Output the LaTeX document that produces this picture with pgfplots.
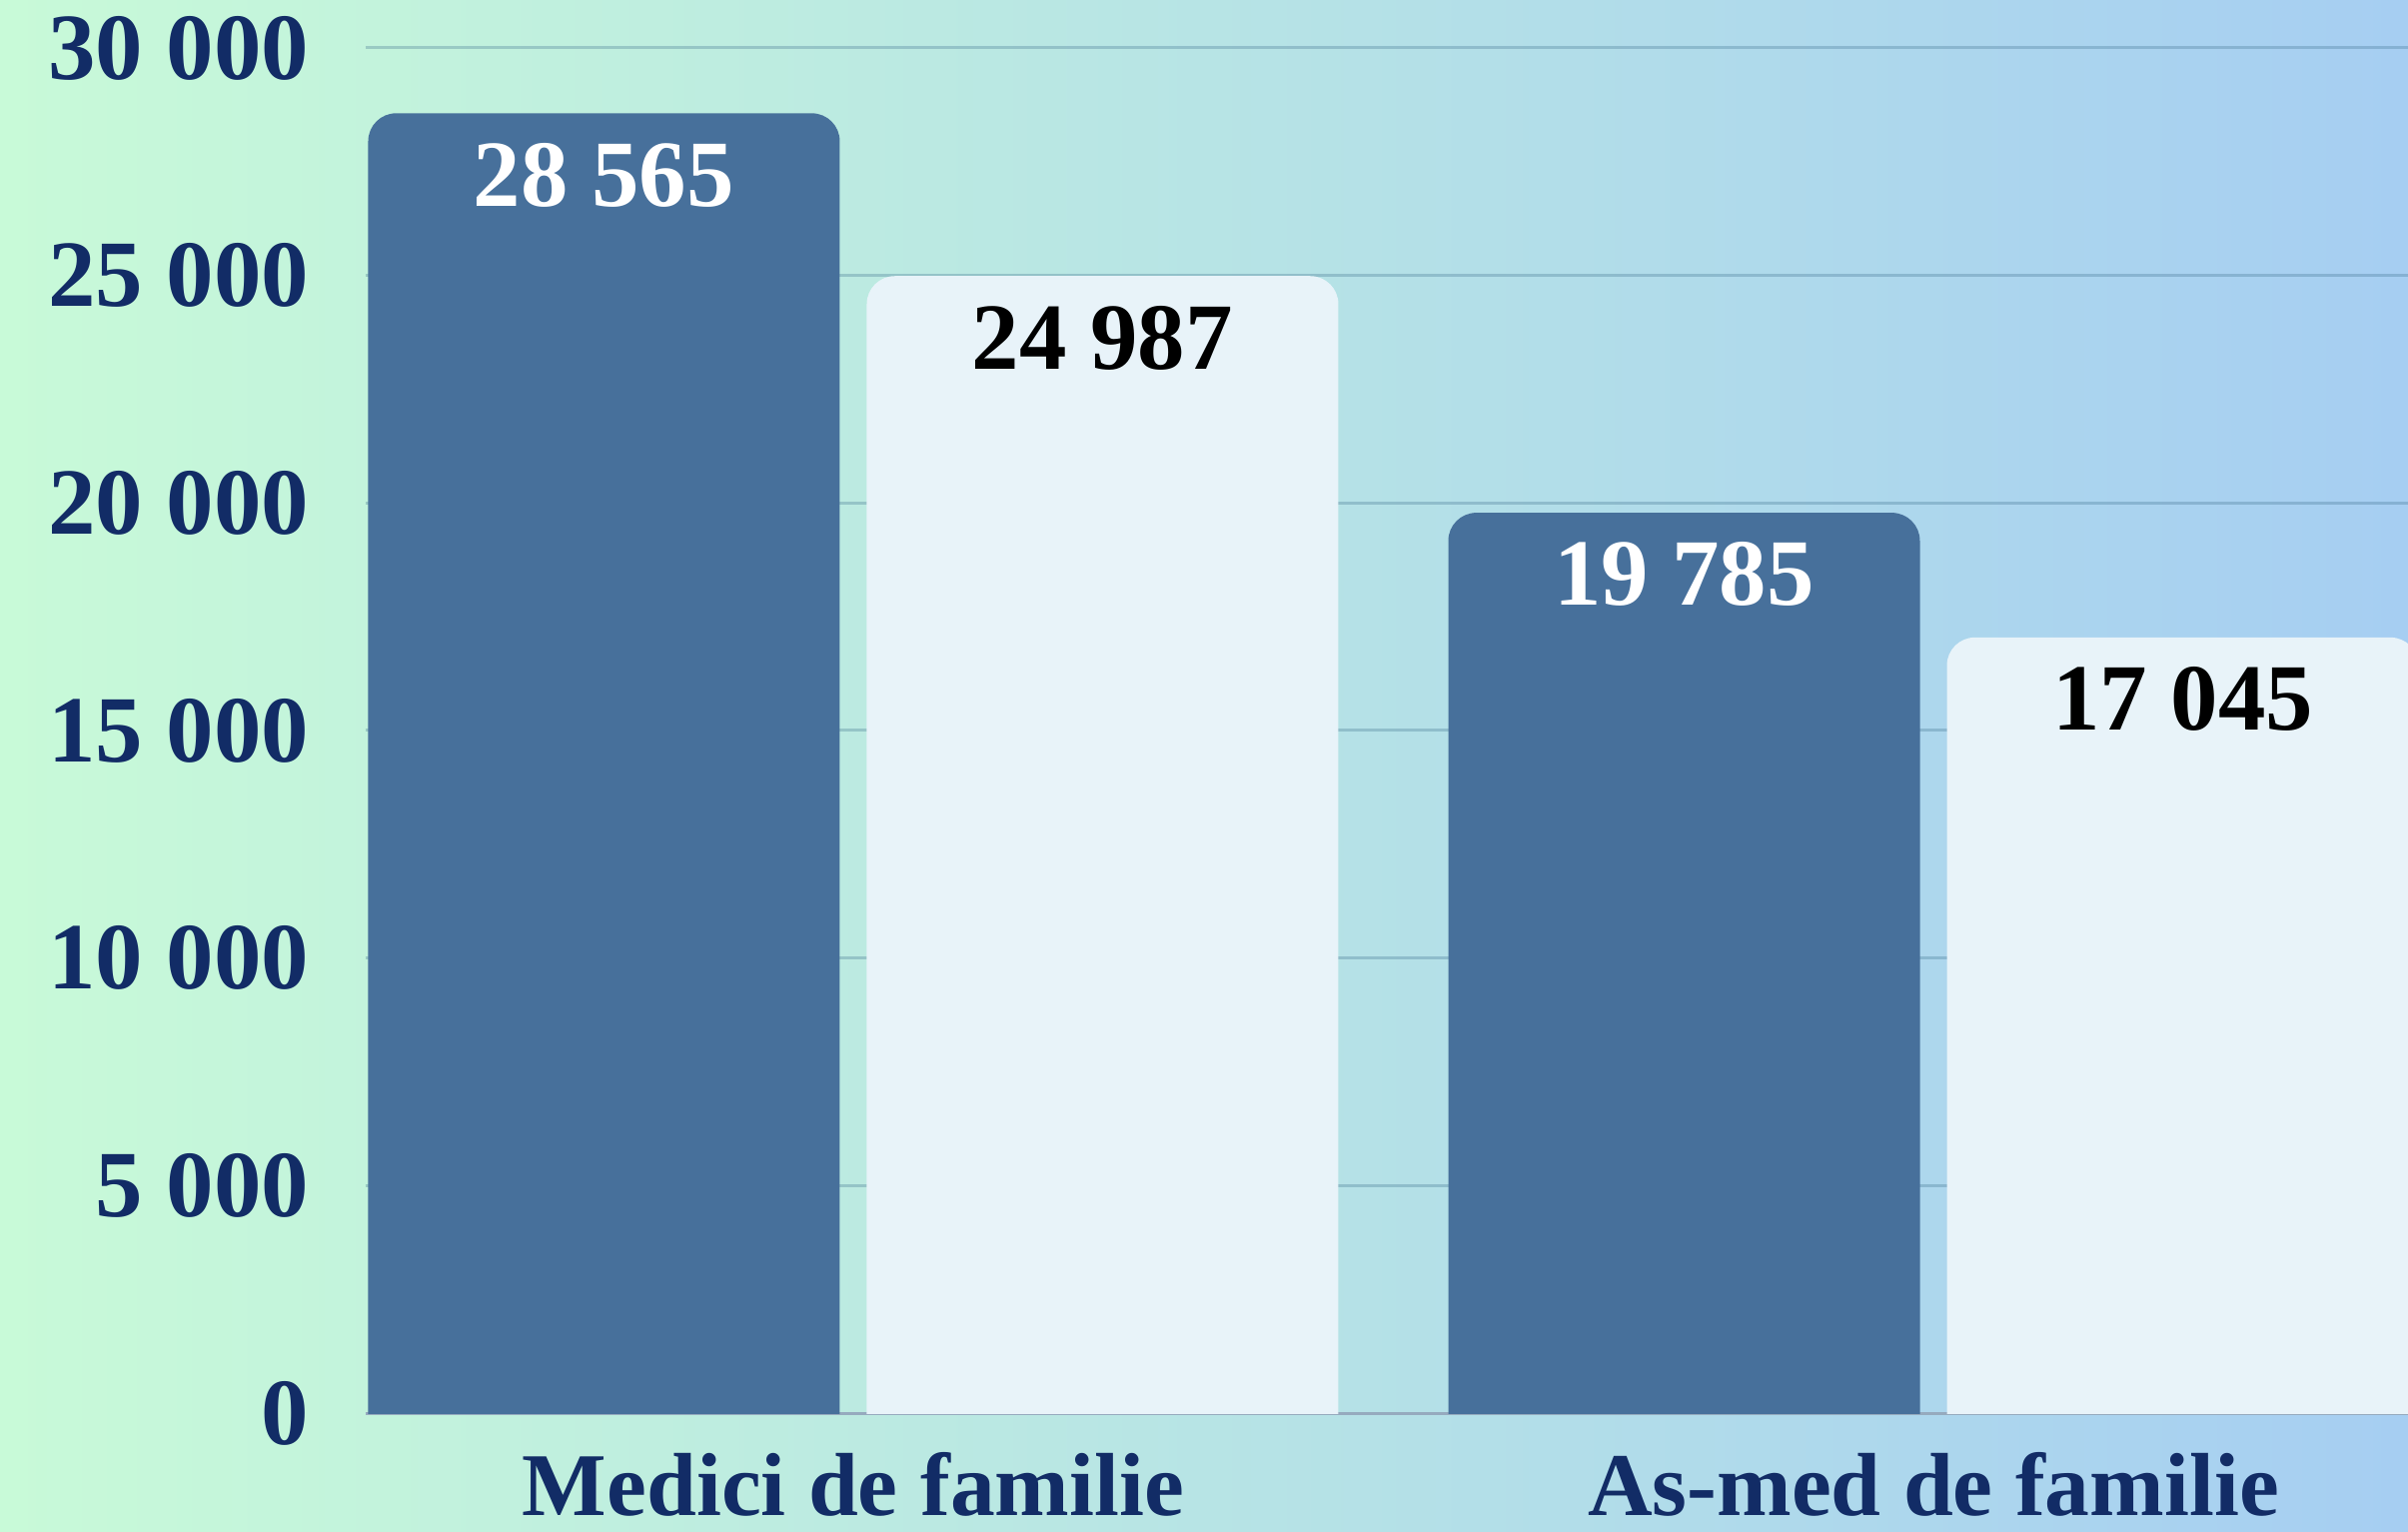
\documentclass[border=0pt]{standalone}
\usepackage{pgfplots}
\usepackage{pgfplotstable}
\pgfplotsset{compat=1.18}
\usepackage{fontspec}
\setmainfont{Liberation Serif}
\definecolor{bgL}{RGB}{200,250,216}
\definecolor{bgM}{RGB}{186,232,228}
\definecolor{bgR}{RGB}{166,206,242}
\definecolor{darkbar}{RGB}{71,112,155}
\definecolor{lightbar}{RGB}{232,243,249}
\definecolor{navy}{RGB}{18,44,102}
\definecolor{gridc}{RGB}{60,110,140}
\definecolor{basec}{RGB}{150,170,190}
\newcommand\numfont{\fontsize{27}{27}\selectfont\bfseries}
\newcommand\catfont{\fontsize{25.5}{25.5}\selectfont\bfseries}

% bar centres: group 0 and 1, offset +-0.2308, half width 0.2183
\pgfplotstableread{
x v lab
-0.2308 28565 {28 565}
0.7692 19785 {19 785}
}\tableA
\pgfplotstableread{
x v lab
0.2308 24987 {24 987}
1.2308 17045 {17 045}
}\tableB

\begin{document}
\begin{tikzpicture}
\shade[left color=bgL, middle color=bgM, right color=bgR] (0,0) rectangle (241mm,153.2mm);
\begin{axis}[
  at={(36.6mm,11.8mm)}, anchor=south west,
  scale only axis, width=204.4mm, height=136.6mm,
  xmin=-0.4514, xmax=1.4394, ymin=0, ymax=30000,
  scaled y ticks=false,
  axis line style={draw=none},
  major tick length=0pt,
  ytick={5000,10000,15000,20000,25000,30000},
  yticklabels={5 000,10 000,15 000,20 000,25 000,30 000},
  extra y ticks={0},
  extra y tick labels={0},
  extra y tick style={grid style={draw=basec, line width=0.3mm, opacity=1}},
  ymajorgrids,
  grid style={draw=gridc, opacity=0.3, line width=0.3mm},
  yticklabel style={anchor=east, inner sep=0pt, xshift=-5.6mm, font=\numfont, text=navy},
  xtick={0,1},
  xticklabels={Medici de familie,As-med de familie},
  xticklabel style={anchor=base, inner sep=0pt, yshift=-10.2mm, font=\catfont, text=navy},
]
% bars: rounded on top, bottom corners hidden below the axis floor
\addplot[fill=darkbar, draw=none, rounded corners=2.8mm] coordinates {(-0.4491,-3000) (-0.4491,28565) (-0.0125,28565) (-0.0125,-3000)};
\addplot[fill=lightbar, draw=none, rounded corners=2.8mm] coordinates {(0.0125,-3000) (0.0125,24987) (0.4491,24987) (0.4491,-3000)};
\addplot[fill=darkbar, draw=none, rounded corners=2.8mm] coordinates {(0.5509,-3000) (0.5509,19785) (0.9875,19785) (0.9875,-3000)};
\addplot[fill=lightbar, draw=none, rounded corners=2.8mm] coordinates {(1.0125,-3000) (1.0125,17045) (1.4491,17045) (1.4491,-3000)};
% value labels
\addplot[draw=none, mark=none, point meta=explicit symbolic, nodes near coords,
  every node near coord/.append style={anchor=north, yshift=-2.9mm, inner sep=0pt, font=\numfont, text=white}]
  table[x=x, y=v, meta=lab] {\tableA};
\addplot[draw=none, mark=none, point meta=explicit symbolic, nodes near coords,
  every node near coord/.append style={anchor=north, yshift=-2.9mm, inner sep=0pt, font=\numfont, text=black}]
  table[x=x, y=v, meta=lab] {\tableB};
\end{axis}
\pgfresetboundingbox
\useasboundingbox (0,0) rectangle (241mm,153.2mm);
\end{tikzpicture}
\end{document}
